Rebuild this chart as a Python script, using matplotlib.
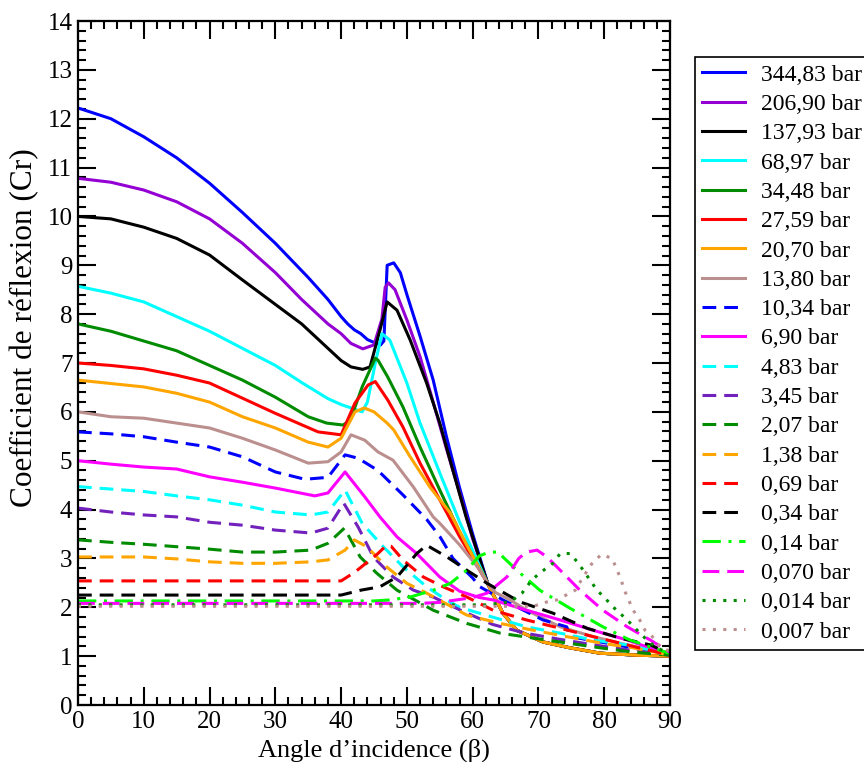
import matplotlib
matplotlib.use("Agg")
import matplotlib.pyplot as plt
from matplotlib.ticker import MultipleLocator

plt.rcParams['font.family'] = ['Liberation Serif', 'DejaVu Serif']

# ---- data (angle in degrees, reflection coefficient) ----
# common tail of the high pressure solid curves after they all meet near 62 deg
x_tail = [63.0, 64.6, 66.7, 70.7, 74.8, 79.4, 85.0, 90.0]
y_tail = [2.29, 1.88, 1.53, 1.29, 1.17, 1.06, 1.02, 1.0]

x_34483 = [0, 5, 10, 15, 20, 25, 30, 35, 38, 40, 41, 42, 43, 44, 45, 46, 46.5, 47, 48, 49, 50, 52, 54, 56, 58, 60, 62.3]
y_34483 = [12.22, 12.0, 11.63, 11.2, 10.68, 10.08, 9.45, 8.75, 8.3, 7.95, 7.8, 7.68, 7.6, 7.48, 7.42, 7.37, 7.45, 9.0, 9.05, 8.85, 8.4, 7.55, 6.65, 5.5, 4.45, 3.5, 2.48]

x_20690 = [0, 5, 10, 15, 20, 25, 30, 34, 38, 40, 41.5, 43.3, 45, 46.2, 46.7, 47.2, 48.2, 50, 52, 54, 56, 58, 60, 62.3]
y_20690 = [10.78, 10.7, 10.54, 10.3, 9.95, 9.45, 8.85, 8.3, 7.8, 7.6, 7.4, 7.29, 7.37, 7.9, 8.55, 8.64, 8.5, 7.88, 7.13, 6.2, 5.25, 4.35, 3.4, 2.48]

x_13793 = [0, 5, 10, 15, 20, 25, 30, 34, 38, 40, 41.5, 43.3, 44.4, 45.9, 47, 48.5, 50.5, 53, 55, 57, 59, 62.3]
y_13793 = [10.0, 9.95, 9.78, 9.55, 9.21, 8.7, 8.2, 7.8, 7.3, 7.05, 6.92, 6.87, 6.92, 7.67, 8.25, 8.08, 7.47, 6.59, 5.77, 4.8, 3.85, 2.48]

x_6897 = [0, 5, 10, 15, 20, 25, 30, 34, 38, 40, 41.5, 43.2, 44, 45.2, 46.2, 47.4, 50, 52, 55, 58, 62.3]
y_6897 = [8.57, 8.43, 8.25, 7.95, 7.65, 7.3, 6.95, 6.6, 6.27, 6.15, 6.08, 6.0, 6.2, 7.0, 7.6, 7.47, 6.59, 5.77, 4.75, 3.75, 2.48]

x_3448 = [0, 5, 10, 15, 20, 25, 30, 35, 37.8, 40.3, 41.4, 43.2, 45.2, 45.6, 47.1, 49.4, 52, 55, 58, 62.3]
y_3448 = [7.8, 7.65, 7.45, 7.25, 6.95, 6.65, 6.3, 5.9, 5.77, 5.73, 5.83, 6.51, 7.1, 7.06, 6.71, 6.1, 5.28, 4.4, 3.55, 2.48]

x_2759 = [0, 5, 10, 15, 20, 25, 30, 36.5, 40, 42.1, 44.1, 45.2, 47.1, 49.4, 52, 55, 58, 62.3]
y_2759 = [7.0, 6.95, 6.88, 6.75, 6.59, 6.28, 5.97, 5.59, 5.53, 6.18, 6.55, 6.62, 6.24, 5.69, 4.95, 4.2, 3.45, 2.48]

x_2070 = [0, 5, 10, 15, 20, 25, 30, 35, 38, 40, 42.1, 43.5, 45, 47, 48, 50.5, 53.5, 56.6, 59, 62.3]
y_2070 = [6.65, 6.58, 6.51, 6.38, 6.2, 5.9, 5.67, 5.38, 5.28, 5.46, 6.0, 6.08, 6.0, 5.77, 5.63, 5.08, 4.46, 3.93, 3.3, 2.48]

x_1380 = [0, 5, 10, 15, 20, 25, 30, 35, 38, 40, 41.5, 43.6, 45.6, 47.9, 51, 54, 55, 58, 61, 62.3, 63.5, 65.7, 68.2, 73.3, 78.3, 83.5, 90]
y_1380 = [6.0, 5.9, 5.87, 5.77, 5.67, 5.46, 5.22, 4.95, 4.98, 5.18, 5.53, 5.42, 5.18, 5.01, 4.46, 3.85, 3.72, 3.28, 2.78, 2.48, 2.3, 2.15, 1.94, 1.6, 1.4, 1.23, 1.02]

x_1034 = [0, 5, 10, 15, 20, 25, 30, 34.5, 38, 40.6, 42.6, 45.6, 49.4, 53, 55, 57, 60, 61.1, 64.6, 70.7, 74.3, 74.8, 79.4, 83.5, 90]
y_1034 = [5.59, 5.55, 5.49, 5.38, 5.28, 5.08, 4.77, 4.62, 4.66, 5.12, 5.05, 4.8, 4.3, 3.8, 3.45, 3.0, 2.6, 2.42, 2.15, 1.74, 1.6, 1.4, 1.29, 1.19, 1.02]

x_690 = [0, 5, 10, 15, 20, 25, 30, 36, 38, 40.6, 43.6, 45.9, 48.5, 51.5, 55, 58, 61, 63.1, 68.2, 73.3, 78.3, 83.5, 90]
y_690 = [5.0, 4.93, 4.87, 4.83, 4.67, 4.56, 4.44, 4.28, 4.34, 4.77, 4.26, 3.85, 3.44, 3.1, 2.62, 2.33, 2.2, 2.15, 1.94, 1.74, 1.53, 1.33, 1.02]

x_483 = [0, 5, 10, 15, 20, 25, 30, 35.4, 38, 40.6, 43.2, 46.4, 49.4, 53, 56, 58, 63, 68.2, 73.3, 78.3, 83.5, 90]
y_483 = [4.47, 4.42, 4.37, 4.28, 4.2, 4.09, 3.95, 3.89, 3.95, 4.4, 3.72, 3.24, 2.83, 2.42, 2.15, 2.0, 1.8, 1.6, 1.47, 1.33, 1.23, 1.02]

x_345 = [0, 5, 10, 15, 20, 25, 30, 35.4, 38, 40.4, 42.6, 44.9, 47.9, 51, 54, 58, 63, 68, 73, 78, 84, 90]
y_345 = [4.03, 3.95, 3.89, 3.85, 3.74, 3.68, 3.58, 3.52, 3.62, 4.13, 3.64, 3.03, 2.62, 2.35, 2.21, 1.95, 1.65, 1.47, 1.35, 1.24, 1.12, 1.02]

x_207 = [0, 5, 10, 15, 20, 25, 30, 35.4, 38, 40.5, 42.9, 45.4, 48.5, 52, 54, 59.1, 64.2, 69.2, 74.3, 79.4, 84.4, 90]
y_207 = [3.38, 3.33, 3.29, 3.24, 3.19, 3.13, 3.13, 3.17, 3.31, 3.62, 3.03, 2.7, 2.35, 2.09, 1.94, 1.67, 1.47, 1.37, 1.27, 1.17, 1.08, 1.02]

x_138 = [0, 10, 15, 20, 25, 30, 35.4, 38, 40.6, 42, 43.9, 46.9, 50, 53, 59.1, 64.2, 69.2, 74.3, 79.4, 84.4, 90]
y_138 = [3.03, 3.03, 2.99, 2.93, 2.9, 2.9, 2.93, 2.97, 3.17, 3.38, 3.24, 2.83, 2.49, 2.29, 1.84, 1.67, 1.53, 1.4, 1.27, 1.17, 1.02]

x_069 = [0, 40, 42.1, 45.6, 46.9, 47.6, 49.4, 52.5, 55.5, 59.1, 63.1, 68.2, 73.3, 78.3, 83.5, 90]
y_069 = [2.54, 2.54, 2.72, 3.1, 3.27, 3.25, 2.97, 2.62, 2.42, 2.21, 1.94, 1.74, 1.57, 1.4, 1.23, 1.02]

x_034 = [0, 40, 43, 45.9, 48.5, 51.5, 53, 56.1, 59.1, 62.2, 67.2, 72.2, 77.4, 82.4, 87, 90]
y_034 = [2.25, 2.25, 2.35, 2.42, 2.62, 3.1, 3.27, 3.03, 2.76, 2.49, 2.11, 1.88, 1.57, 1.37, 1.23, 1.05]

x_014 = [0, 45, 47.4, 50.5, 54, 56.6, 59.1, 61, 62.5, 64, 64.6, 66.7, 70.2, 74.8, 79.8, 83.9, 88.5, 90]
y_014 = [2.13, 2.13, 2.15, 2.21, 2.35, 2.49, 2.76, 3.05, 3.13, 3.13, 3.03, 2.76, 2.35, 1.98, 1.6, 1.33, 1.12, 1.05]

x_0070 = [0, 52, 55, 60, 62.2, 65.2, 67, 68.2, 69.8, 71.3, 73.3, 76.3, 79.8, 83.5, 87, 90]
y_0070 = [2.08, 2.08, 2.1, 2.2, 2.29, 2.62, 3.0, 3.13, 3.17, 3.03, 2.76, 2.35, 1.94, 1.6, 1.33, 1.08]

x_0014 = [0, 62, 65.7, 67.5, 69, 70.2, 72.2, 73.3, 74.8, 75.9, 76.8, 78.9, 80.1, 81.4, 83.5, 85, 86.5, 88, 90]
y_0014 = [2.05, 2.05, 2.11, 2.29, 2.56, 2.7, 2.9, 3.1, 3.1, 2.93, 2.76, 2.35, 2.19, 2.0, 1.74, 1.53, 1.33, 1.17, 1.05]

x_0007 = [0, 69.2, 71.3, 72.8, 75.6, 76.8, 78.3, 79.6, 81.2, 82.4, 83.2, 84.4, 85.4, 86.2, 87.3, 88.5, 90]
y_0007 = [2.02, 2.02, 2.11, 2.15, 2.35, 2.62, 2.93, 3.08, 3.0, 2.62, 2.31, 1.94, 1.74, 1.53, 1.4, 1.19, 1.1]

labels = ["344,83 bar", "206,90 bar", "137,93 bar", "68,97 bar", "34,48 bar",
          "27,59 bar", "20,70 bar", "13,80 bar", "10,34 bar", "6,90 bar",
          "4,83 bar", "3,45 bar", "2,07 bar", "1,38 bar", "0,69 bar",
          "0,34 bar", "0,14 bar", "0,070 bar", "0,014 bar", "0,007 bar"]

# grace palette
BLUE, VIOLET, BLACK, CYAN = '#0000ff', '#9400d3', '#000000', '#00ffff'
GREEN4, RED, ORANGE, BROWN = '#008b00', '#ff0000', '#ffa500', '#bc8f8f'
MAGENTA, INDIGO, LIME = '#ff00ff', '#7221bc', '#00ff00'

SOLID = '-'
DASH = (0, (4.5, 2.6))
DASHDOT = (0, (6, 2.5, 1, 2.5))
DASH_LONG = (0, (5.5, 2.6))
DOT = (0, (1, 2.4))

curves = [
    (x_34483 + x_tail, y_34483 + y_tail, BLUE, SOLID),
    (x_20690 + x_tail, y_20690 + y_tail, VIOLET, SOLID),
    (x_13793 + x_tail, y_13793 + y_tail, BLACK, SOLID),
    (x_6897 + x_tail, y_6897 + y_tail, CYAN, SOLID),
    (x_3448 + x_tail, y_3448 + y_tail, GREEN4, SOLID),
    (x_2759 + x_tail, y_2759 + y_tail, RED, SOLID),
    (x_2070 + x_tail, y_2070 + y_tail, ORANGE, SOLID),
    (x_1380, y_1380, BROWN, SOLID),
    (x_1034, y_1034, BLUE, DASH),
    (x_690, y_690, MAGENTA, SOLID),
    (x_483, y_483, CYAN, DASH),
    (x_345, y_345, INDIGO, DASH),
    (x_207, y_207, GREEN4, DASH),
    (x_138, y_138, ORANGE, DASH),
    (x_069, y_069, RED, DASH),
    (x_034, y_034, BLACK, DASH),
    (x_014, y_014, LIME, DASHDOT),
    (x_0070, y_0070, MAGENTA, DASH_LONG),
    (x_0014, y_0014, GREEN4, DOT),
    (x_0007, y_0007, BROWN, DOT),
]

fig = plt.figure(figsize=(8.64, 7.62), dpi=100)
ax = fig.add_axes([78 / 864, 1 - 705 / 762, 592 / 864, 684 / 762])

for (xs, ys, col, ls), lab in zip(curves, labels):
    ax.plot(xs, ys, color=col, ls=ls, lw=2.2, label=lab)

ax.set_xlim(0, 90)
ax.set_ylim(0, 14)
ax.xaxis.set_major_locator(MultipleLocator(10))
ax.xaxis.set_minor_locator(MultipleLocator(2))
ax.yaxis.set_major_locator(MultipleLocator(1))
ax.yaxis.set_minor_locator(MultipleLocator(0.2))
ax.tick_params(which='both', direction='in', top=True, right=True, width=1.5, labelsize=18)
ax.tick_params(which='major', length=13, pad=4)
ax.tick_params(which='minor', length=6)
for s in ax.spines.values():
    s.set_linewidth(1.6)

ax.set_xlabel("Angle d\u2019incidence (\u03b2)", fontsize=19, labelpad=4)
ax.set_ylabel("Coefficient de r\u00e9flexion (Cr)", fontsize=22.5)
ax.yaxis.set_label_coords(-0.066, 0.551)

# legend sits right of the axes; the right edge of its frame runs off the figure
leg = fig.legend(loc='upper left', bbox_to_anchor=(695 / 864, 1 - 57 / 762),
                 fontsize=17, frameon=True, fancybox=False, edgecolor='black',
                 framealpha=1, borderaxespad=0, borderpad=0.3, labelspacing=0.33,
                 handlelength=1.8, handletextpad=0.7)
leg.get_frame().set_linewidth(1.2)

fig.savefig("out.png", dpi=100)
